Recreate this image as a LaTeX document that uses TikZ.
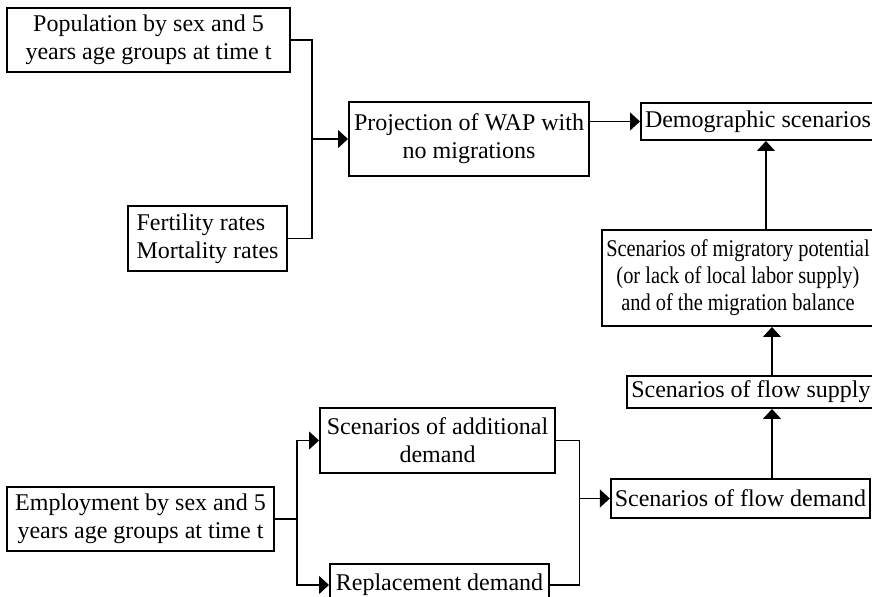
\documentclass[tikz,border=0pt]{standalone}
\usepackage{fontspec}
\setmainfont{Liberation Serif}
\newfontfamily\narrowserif[FakeStretch=0.85]{Liberation Serif}
\usepackage{tikz}
\usetikzlibrary{
    arrows.meta,
    positioning,
    calc
}

\begin{document}
\begin{tikzpicture}[
    >={Triangle[length=5pt, width=9pt]},
    box/.style={draw=black, line width=1pt, inner sep=2pt, align=center, font=\fontsize{12}{14}\selectfont},
    link/.style={draw=black, line width=0.65pt},
    flow/.style={link, ->}
]
\useasboundingbox (0,0) rectangle (436pt,-298.5pt);

% ==================== POPULATION SIDE ====================
\node[box, minimum width=141.5pt, minimum height=32pt] (pop) at (74.25pt,-20pt) {
    Population by sex and 5\\
    years age groups at time t
};

\node[box, align=left, minimum width=79.5pt, minimum height=32.5pt, below=66pt of pop, xshift=29.5pt] (rates) {
    Fertility rates\\
    Mortality rates
};

\node[box, minimum width=120pt, minimum height=37pt, right=28.5pt of pop, yshift=-49.5pt] (wap) {
    Projection of WAP with\\
    no migrations
};
\coordinate (popjoin) at ($(wap.west)+(-18pt,0)$);
\draw[link] (pop.east) -| (popjoin);
\draw[link] (rates.east) -| (popjoin);
\draw[flow] (popjoin) -- (wap.west);

% ==================== DEMOGRAPHIC SCENARIOS ====================
\node[box, minimum width=116pt, minimum height=18.5pt, right=25pt of wap, yshift=8.75pt] (demo) {Demographic scenarios};
\draw[flow] (demo.west -| wap.east) -- (demo.west);

% ==================== MIGRATION BALANCE ====================
\node[box, minimum width=136pt, minimum height=48pt, below=44pt of demo, xshift=-10pt, font=\narrowserif\fontsize{12}{13.5}\selectfont] (migpot) {
    Scenarios of migratory potential\\
    (or lack of local labor supply)\\
    and of the migration balance
};
\coordinate (demoin) at ([xshift=4pt]demo.south);
\draw[flow] (demoin |- migpot.north) -- (demoin);

\node[box, minimum width=123pt, minimum height=16pt, below=24pt of migpot, xshift=6.5pt] (fsupply) {Scenarios of flow supply};
\coordinate (supout) at ([xshift=10.5pt]fsupply.north);
\draw[flow] (supout) -- (supout |- migpot.south);

\node[box, minimum width=129.5pt, minimum height=19.5pt, below=34.5pt of fsupply, xshift=-5.25pt] (fdemand) {Scenarios of flow demand};
\coordinate (supin) at ([xshift=10.5pt]fsupply.south);
\draw[flow] (supin |- fdemand.north) -- (supin);

% ==================== EMPLOYMENT SIDE ====================
\node[box, minimum width=133.5pt, minimum height=32pt, below=107pt of rates, xshift=-33.5pt] (employ) {
    Employment by sex and 5\\
    years age groups at time t
};

\node[box, minimum width=117.5pt, minimum height=32.5pt, right=22pt of employ, yshift=39.25pt] (adddem) {
    Scenarios of additional\\
    demand
};
\node[box, minimum width=109.5pt, minimum height=21pt, right=27pt of employ, yshift=-33pt] (repl) {Replacement demand};

\coordinate (empjoin) at ($(employ.east)+(11pt,0)$);
\draw[link] (employ.east) -- (empjoin);
\draw[flow] (empjoin) |- (adddem.west);
\draw[flow] (empjoin) |- (repl.west);

\coordinate (demjoin) at ($(fdemand.west)+(-15pt,0)$);
\draw[link] (adddem.east) -| (demjoin);
\draw[link] (repl.east) -| (demjoin);
\draw[flow] (demjoin) -- (fdemand.west);

\end{tikzpicture}
\end{document}
